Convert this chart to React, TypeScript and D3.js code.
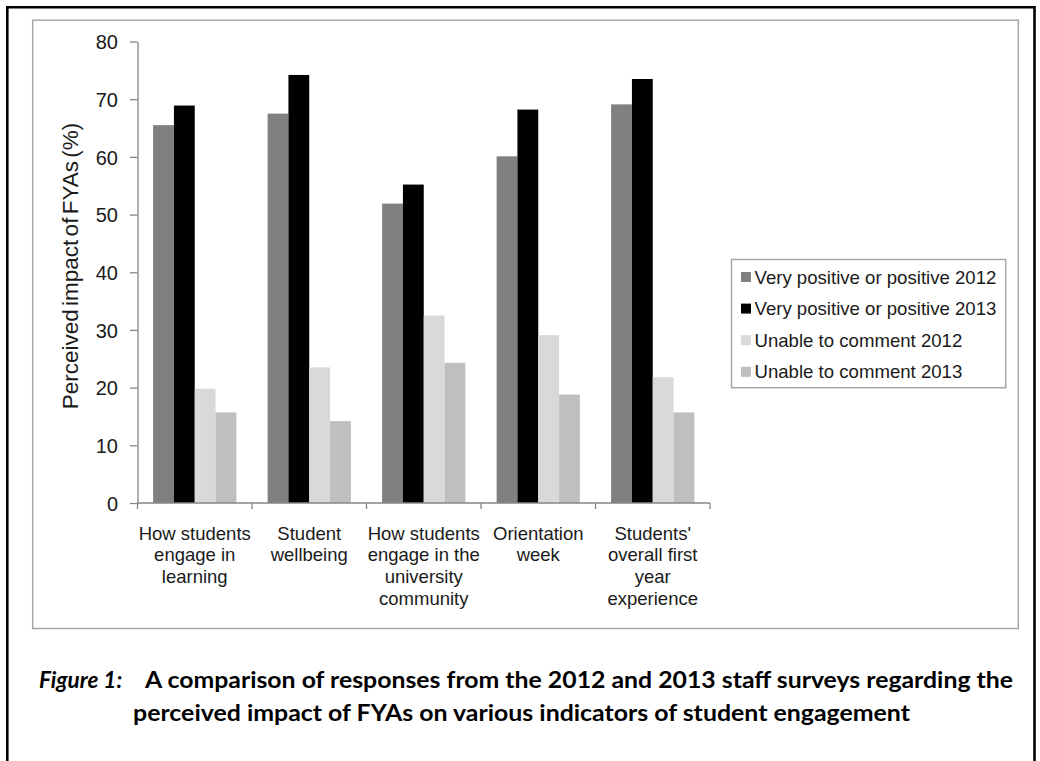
import React, { useEffect, useRef } from "react";
import * as d3 from "d3";

const categories: string[][] = [
  ["How students", "engage in", "learning"],
  ["Student", "wellbeing"],
  ["How students", "engage in the", "university", "community"],
  ["Orientation", "week"],
  ["Students'", "overall first", "year", "experience"],
];
const seriesNames = [
  "Very positive or positive 2012",
  "Very positive or positive 2013",
  "Unable to comment 2012",
  "Unable to comment 2013",
];
const seriesColors = ["#808080", "#000000", "#d9d9d9", "#bfbfbf"];
const positive2012 = [65.5, 67.5, 51.9, 60.1, 69.1];
const positive2013 = [68.9, 74.2, 55.2, 68.2, 73.5];
const unable2012 = [19.8, 23.5, 32.5, 29.1, 21.8];
const unable2013 = [15.7, 14.2, 24.3, 18.8, 15.7];
const yTicks = [0, 10, 20, 30, 40, 50, 60, 70, 80];
const yTitle = "Perceived impact of FYAs (%)";
const captionLead = "Figure 1:";
const captionLine1 = "A comparison of responses from the 2012 and 2013 staff surveys regarding the";
const captionLine2 = "perceived impact of FYAs on various indicators of student engagement";

const W = 1040;
const H = 761;
const FONT = "'Liberation Sans', Arial, sans-serif";
const TEXT = "#1a1a1a";
const AXIS = "#868686";

export default function App() {
  const ref = useRef<SVGSVGElement | null>(null);

  useEffect(() => {
    const svg = d3.select(ref.current);
    svg.selectAll("*").remove();

    const series = [positive2012, positive2013, unable2012, unable2013];
    const idx = categories.map((_, i) => i);

    // outer figure frame
    const frame = svg.append("g").attr("stroke", "#000").attr("stroke-width", 2.6).attr("fill", "none");
    frame.append("path").attr("d", `M7.3,${H + 5} V7.3 H1034.5 V${H + 5}`);

    // chart area border
    svg.append("rect")
      .attr("x", 32.7).attr("y", 20.2)
      .attr("width", 1018.3 - 32.7).attr("height", 628.5 - 20.2)
      .attr("fill", "#fff").attr("stroke", "#a6a6a6").attr("stroke-width", 1.5);

    const x = d3.scaleBand<number>().domain(idx).range([137.5, 710]).padding(0);
    const bw = x.bandwidth();
    const barW = bw / 5.5;
    const xs = d3.scaleBand<number>().domain([0, 1, 2, 3])
      .range([(bw - 4 * barW) / 2, (bw + 4 * barW) / 2]).padding(0);
    const y = d3.scaleLinear().domain([0, 80]).range([503, 41.5]);

    // bars
    const g = svg.append("g");
    series.forEach((vals, s) => {
      g.append("g").selectAll("rect").data(vals).join("rect")
        .attr("x", (_, i) => (x(i) as number) + (xs(s) as number))
        .attr("y", (d) => y(d))
        .attr("width", xs.bandwidth())
        .attr("height", (d) => y(0) - y(d))
        .attr("fill", seriesColors[s]);
    });

    // y axis
    const yAxis = d3.axisLeft(y).tickValues(yTicks).tickSize(7.5).tickSizeOuter(0).tickPadding(12);
    const ya = svg.append("g").attr("transform", "translate(137.5,0)").call(yAxis);
    ya.select(".domain").attr("stroke", AXIS).attr("stroke-width", 1.3);
    ya.selectAll(".tick line").attr("stroke", AXIS).attr("stroke-width", 1.3);
    ya.selectAll(".tick text")
      .attr("fill", TEXT).attr("font-family", FONT).attr("font-size", 20)
      .attr("dy", "0.36em");

    // x axis
    svg.append("line").attr("x1", 137.5).attr("x2", 710).attr("y1", 503).attr("y2", 503)
      .attr("stroke", AXIS).attr("stroke-width", 1.5);
    const bounds = [...idx.map((i) => x(i) as number), 710];
    svg.append("g").selectAll("line").data(bounds).join("line")
      .attr("x1", (d) => d).attr("x2", (d) => d).attr("y1", 503).attr("y2", 509)
      .attr("stroke", AXIS).attr("stroke-width", 1.3);

    // category labels
    const cl = svg.append("g").attr("font-family", FONT).attr("font-size", 18.5).attr("fill", TEXT)
      .attr("text-anchor", "middle");
    categories.forEach((lines, i) => {
      const t = cl.append("text").attr("x", (x(i) as number) + bw / 2).attr("y", 539.5);
      lines.forEach((ln, k) => {
        t.append("tspan").attr("x", (x(i) as number) + bw / 2).attr("y", 539.5 + k * 21.7).text(ln);
      });
    });

    // y title
    svg.append("text")
      .attr("transform", "translate(77.5,266) rotate(-90)")
      .attr("text-anchor", "middle")
      .attr("font-family", FONT).attr("font-size", 22.5).attr("fill", TEXT)
      .attr("word-spacing", -3)
      .text(yTitle);

    // legend
    const lg = svg.append("g");
    lg.append("rect").attr("x", 731.5).attr("y", 259.5).attr("width", 1005.7 - 731.5).attr("height", 387.7 - 259.5)
      .attr("fill", "#fff").attr("stroke", "#a6a6a6").attr("stroke-width", 1.5);
    const ly = d3.scalePoint<number>().domain([0, 1, 2, 3]).range([277, 371.8]);
    seriesNames.forEach((name, s) => {
      const cy = ly(s) as number;
      lg.append("rect").attr("x", 741).attr("y", cy - 5).attr("width", 10).attr("height", 10).attr("fill", seriesColors[s]);
      lg.append("text").attr("x", 754.5).attr("y", cy).attr("dy", "0.36em")
        .attr("font-family", FONT).attr("font-size", 18.6).attr("fill", TEXT).text(name);
    });

    // caption
    const cap = svg.append("g").attr("font-family", "Lato, 'Open Sans', sans-serif").attr("font-weight", 700)
      .attr("font-size", 22.5).attr("fill", "#000");
    cap.append("text").attr("x", 39).attr("y", 688).attr("font-style", "italic").text(captionLead);
    cap.append("text").attr("x", 145).attr("y", 688)
      .attr("textLength", 1013 - 145).attr("lengthAdjust", "spacingAndGlyphs").text(captionLine1);
    cap.append("text").attr("x", 133).attr("y", 721)
      .attr("textLength", 910 - 133).attr("lengthAdjust", "spacingAndGlyphs").text(captionLine2);
  }, []);

  return (
    <svg
      ref={ref}
      width={W}
      height={H}
      style={{ position: "absolute", left: 0, top: 0, background: "#fff" }}
    />
  );
}
